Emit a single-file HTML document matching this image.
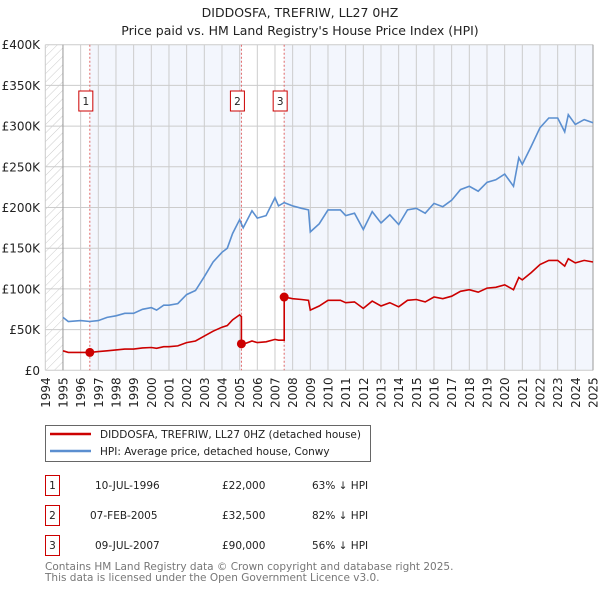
<!DOCTYPE html>
<html><head><meta charset="utf-8"><style>
body{margin:0;background:#fff;font-family:"DejaVu Sans","Liberation Sans",sans-serif;}
svg{display:block}
</style></head><body>
<svg width="600" height="590" viewBox="0 0 600 590" xmlns="http://www.w3.org/2000/svg" font-family="DejaVu Sans, Liberation Sans, sans-serif">
<defs><pattern id="hatch" width="6" height="6" patternUnits="userSpaceOnUse" patternTransform="rotate(45)"><line x1="0" y1="0" x2="0" y2="6" stroke="#ccc" stroke-width="1"/></pattern></defs>
<text x="300" y="17" text-anchor="middle" font-size="12.5" fill="#222">DIDDOSFA, TREFRIW, LL27 0HZ</text>
<text x="300" y="35" text-anchor="middle" font-size="12.5" fill="#222">Price paid vs. HM Land Registry's House Price Index (HPI)</text>
<g id="plot"></g>
<g>
<rect x="45.5" y="425.5" width="325" height="36" fill="#fff" stroke="#666"/>
<line x1="50" y1="434" x2="91" y2="434" stroke="#cc0000" stroke-width="2.5"/>
<text x="100" y="438" font-size="10.5" fill="#222">DIDDOSFA, TREFRIW, LL27 0HZ (detached house)</text>
<line x1="50" y1="451" x2="91" y2="451" stroke="#5b8fd0" stroke-width="2.5"/>
<text x="100" y="455" font-size="10.5" fill="#222">HPI: Average price, detached house, Conwy</text>
</g>
<g font-size="10.5" fill="#222">
<rect x="45.5" y="475.5" width="14" height="20" fill="#fff" stroke="#cc0000"/><text x="52.5" y="489" text-anchor="middle">1</text>
<text x="95" y="489">10-JUL-1996</text><text x="222" y="489">£22,000</text><text x="312" y="489">63% ↓ HPI</text>
<rect x="45.5" y="505.5" width="14" height="20" fill="#fff" stroke="#cc0000"/><text x="52.5" y="519" text-anchor="middle">2</text>
<text x="90" y="519">07-FEB-2005</text><text x="222" y="519">£32,500</text><text x="312" y="519">82% ↓ HPI</text>
<rect x="45.5" y="535.5" width="14" height="20" fill="#fff" stroke="#cc0000"/><text x="52.5" y="549" text-anchor="middle">3</text>
<text x="95" y="549">09-JUL-2007</text><text x="222" y="549">£90,000</text><text x="312" y="549">56% ↓ HPI</text>
</g>
<text x="45" y="570" font-size="10.5" fill="#777">Contains HM Land Registry data © Crown copyright and database right 2025.</text>
<text x="45" y="581" font-size="10.5" fill="#777">This data is licensed under the Open Government Licence v3.0.</text>
</svg>
<script>
const hpiDates=[1995.0,1995.3,1996.0,1996.52,1997.0,1997.5,1998.0,1998.5,1999.0,1999.5,2000.0,2000.3,2000.7,2001.0,2001.5,2002.0,2002.5,2003.0,2003.5,2004.0,2004.3,2004.6,2005.0,2005.1,2005.1,2005.2,2005.7,2006.0,2006.5,2007.0,2007.2,2007.52,2007.52,2008.0,2008.5,2008.9,2009.0,2009.5,2010.0,2010.7,2011.0,2011.5,2012.0,2012.5,2013.0,2013.5,2014.0,2014.5,2015.0,2015.5,2016.0,2016.5,2017.0,2017.5,2018.0,2018.5,2019.0,2019.5,2020.0,2020.5,2020.8,2021.0,2021.5,2022.0,2022.5,2023.0,2023.4,2023.6,2024.0,2024.5,2025.0];
const hpiValues=[65,60,61,60,61,65,67,70,70,75,77,74,80,80,82,93,98,115,133,145,150,168,185,180,180,175,196,187,190,212,202,206,206,202,199,197,170,180,197,197,190,193,173,195,181,191,179,197,199,193,205,201,209,222,226,220,231,234,241,226,261,253,275,298,310,310,293,314,302,308,304];
const priceValues=[24,22,22,22,23,24,25,26,26,27.5,28,27,29,29,30,34,36,42,48,53,55,62,68,66,32.5,32,36,34,35,38,37,37,90,88,87,86,74,79,86,86,83,84,76,85,79,83,78,86,87,84,90,88,91,97,99,96,101,102,105,99,114,111,120,130,135,135,128,137,132,135,133];
const saleDates=[1996.52,2005.1,2007.52];
const saleValues=[22,32.5,90];
const saleLabels=["1","2","3"];
const yTicks=[0,50,100,150,200,250,300,350,400];
const yTickLabels=["£0","£50K","£100K","£150K","£200K","£250K","£300K","£350K","£400K"];
const xTicks=[1994,1995,1996,1997,1998,1999,2000,2001,2002,2003,2004,2005,2006,2007,2008,2009,2010,2011,2012,2013,2014,2015,2016,2017,2018,2019,2020,2021,2022,2023,2024,2025];

const X0=45.3,X1=593,Y0=370.3,Y1=44.7;
const xs=y=>X0+(y-1994)/(2025-1994)*(X1-X0);
const ys=v=>Y0-v/400*(Y0-Y1);
const NS="http://www.w3.org/2000/svg";
const plot=document.getElementById('plot');
function mk(t,a){const e=document.createElementNS(NS,t);for(const k in a)e.setAttribute(k,a[k]);plot.appendChild(e);return e;}
let e;
e=mk('rect',{x:X0,y:Y1,width:X1-X0,height:Y0-Y1,fill:'#fff'});


e=mk('rect',{x:X0,y:Y1,width:xs(1995)-X0,height:Y0-Y1,fill:'url(#hatch)'});


const shade=[[saleDates[0],saleDates[1]],[saleDates[2],2025]];
shade.forEach(s=>{e=mk('rect',{x:xs(s[0]),y:Y1,width:xs(s[1])-xs(s[0]),height:Y0-Y1,fill:'#f3f6fd'});

});
yTicks.forEach((v,i)=>{e=mk('line',{x1:X0,x2:X1,y1:ys(v),y2:ys(v),stroke:'#ccc','stroke-width':1});


e=mk('text',{x:40,y:ys(v)+4.5,'text-anchor':'end','font-size':'12',fill:'#222'});e.textContent=yTickLabels[i];

});
xTicks.forEach(t=>{e=mk('line',{x1:xs(t),x2:xs(t),y1:Y1,y2:Y0,stroke:'#ccc','stroke-width':1});


e=mk('text',{x:0,y:0,'font-size':'12',fill:'#222','text-anchor':'end',transform:`translate(${xs(t)+4.5},${Y0+7}) rotate(-90)`});e.textContent=t;

});
e=mk('line',{x1:xs(1995),x2:xs(1995),y1:Y1,y2:Y0,stroke:'#999'});


e=mk('line',{x1:X1,x2:X1,y1:Y1,y2:Y0,stroke:'#999'});


saleDates.forEach((d,i)=>{e=mk('line',{x1:xs(d),x2:xs(d),y1:Y1,y2:Y0,stroke:'#e06666','stroke-dasharray':'2,2'});


e=mk('rect',{x:xs(d)-11,y:91,width:14,height:20,fill:'#fff',stroke:'#cc0000'});


e=mk('text',{x:xs(d)-4,y:105,'text-anchor':'middle','font-size':'10.5',fill:'#222'});e.textContent=saleLabels[i];

});
const pts=(vals)=>hpiDates.map((d,i)=>xs(d).toFixed(1)+','+ys(vals[i]).toFixed(1)).join(' ');
e=mk('polyline',{points:pts(hpiValues),fill:'none',stroke:'#5b8fd0','stroke-width':1.6});


e=mk('polyline',{points:pts(priceValues),fill:'none',stroke:'#cc0000','stroke-width':1.6});


saleDates.forEach((d,i)=>{e=mk('circle',{cx:xs(d),cy:ys(saleValues[i]),r:4.5,fill:'#cc0000'});

});
</script>
</body></html>
